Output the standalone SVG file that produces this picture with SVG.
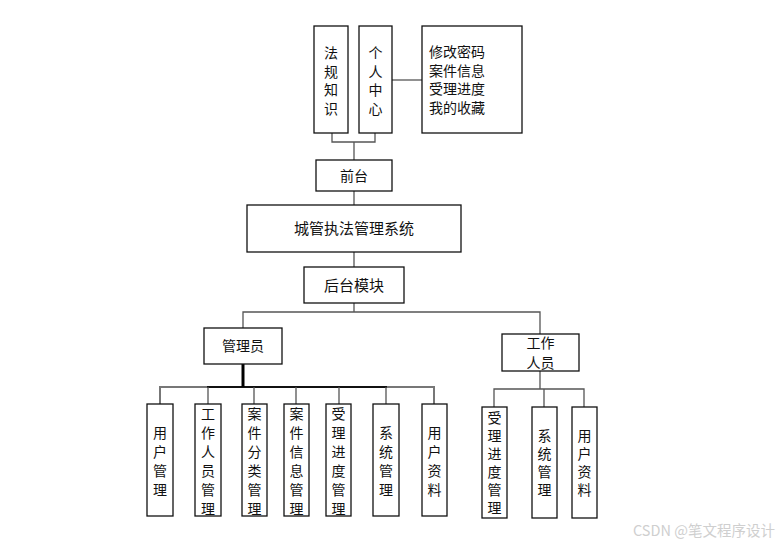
<svg xmlns="http://www.w3.org/2000/svg" width="782" height="545" viewBox="0 0 782 545">
<style>
.box{fill:#fff;stroke:#111;stroke-width:1.3}
.ln{fill:none;stroke:#555;stroke-width:1.3}
.lg{fill:none;stroke:#777;stroke-width:2}
.ld{fill:none;stroke:#111;stroke-width:2}
.t{font-family:"Noto Sans CJK SC","Liberation Sans",sans-serif;font-size:14px;fill:#111}
.big{font-size:15px}
.c{text-anchor:middle}
.wm{font-family:"Noto Sans CJK SC","Liberation Sans",sans-serif;font-size:14.5px;fill:#cfcfcf}
</style>
<rect width="782" height="545" fill="#fff"/>
<g id="connectors">
<path class="ln" d="M392,80 H422"/>
<path class="ln" d="M332,133 V142 H375 V133"/>
<path class="ln" d="M354,142 V160"/>
<path class="ln" d="M354,191 V205"/>
<path class="ln" d="M354,252 V267"/>
<path class="ln" d="M354,303 V312"/>
<path class="ln" d="M243,328 V312 H540 V334"/>
<path class="lg" d="M160,404 V387 H434 V404"/>
<path class="ld" d="M207,387 H387"/>
<path d="M243,364 V387" fill="none" stroke="#000" stroke-width="3"/>
<path class="ln" d="M208,387 V404 M254,387 V404 M296,387 V404 M339,387 V404 M386,387 V404"/>
<path class="ln" d="M540,371 V389 M494,407 V389 H584 V407 M544,389 V407"/>
</g>
<g id="n-fagui"><rect class="box" x="314" y="26" width="34" height="107"/>
<text class="t c"><tspan x="331" y="58">法</tspan><tspan x="331" y="77">规</tspan><tspan x="331" y="95">知</tspan><tspan x="331" y="114">识</tspan></text></g>
<g id="n-geren"><rect class="box" x="359" y="26" width="33" height="107"/>
<text class="t c"><tspan x="375.5" y="58">个</tspan><tspan x="375.5" y="77">人</tspan><tspan x="375.5" y="95">中</tspan><tspan x="375.5" y="114">心</tspan></text></g>
<g id="n-gerenitems"><rect class="box" x="422" y="26" width="100" height="107"/>
<text class="t"><tspan x="429" y="57">修改密码</tspan><tspan x="429" y="76">案件信息</tspan><tspan x="429" y="94">受理进度</tspan><tspan x="429" y="113">我的收藏</tspan></text></g>
<g id="n-qiantai"><rect class="box" x="316" y="160" width="76" height="31"/>
<text class="t c" x="354" y="181">前台</text></g>
<g id="n-system"><rect class="box" x="247" y="205" width="214" height="47"/>
<text class="t big c" x="354" y="234">城管执法管理系统</text></g>
<g id="n-houtai"><rect class="box" x="304" y="267" width="100" height="36"/>
<text class="t big c" x="354" y="291">后台模块</text></g>
<g id="n-admin"><rect class="box" x="204" y="328" width="78" height="36"/>
<text class="t c" x="243" y="351">管理员</text></g>
<g id="n-worker"><rect class="box" x="502" y="334" width="77" height="37"/>
<text class="t c"><tspan x="540.5" y="348">工作</tspan><tspan x="540.5" y="368">人员</tspan></text></g>
<g id="n-a1"><rect class="box" x="147" y="404" width="26" height="112"/>
<text class="t c"><tspan x="160" y="438">用</tspan><tspan x="160" y="457">户</tspan><tspan x="160" y="476">管</tspan><tspan x="160" y="495">理</tspan></text></g>
<g id="n-a2"><rect class="box" x="195" y="404" width="26" height="112"/>
<text class="t c"><tspan x="208" y="419">工</tspan><tspan x="208" y="438">作</tspan><tspan x="208" y="457">人</tspan><tspan x="208" y="476">员</tspan><tspan x="208" y="495">管</tspan><tspan x="208" y="514">理</tspan></text></g>
<g id="n-a3"><rect class="box" x="242" y="404" width="25" height="112"/>
<text class="t c"><tspan x="254.5" y="419">案</tspan><tspan x="254.5" y="438">件</tspan><tspan x="254.5" y="457">分</tspan><tspan x="254.5" y="476">类</tspan><tspan x="254.5" y="495">管</tspan><tspan x="254.5" y="514">理</tspan></text></g>
<g id="n-a4"><rect class="box" x="284" y="404" width="25" height="112"/>
<text class="t c"><tspan x="296.5" y="419">案</tspan><tspan x="296.5" y="438">件</tspan><tspan x="296.5" y="457">信</tspan><tspan x="296.5" y="476">息</tspan><tspan x="296.5" y="495">管</tspan><tspan x="296.5" y="514">理</tspan></text></g>
<g id="n-a5"><rect class="box" x="326" y="404" width="25" height="112"/>
<text class="t c"><tspan x="338.5" y="419">受</tspan><tspan x="338.5" y="438">理</tspan><tspan x="338.5" y="457">进</tspan><tspan x="338.5" y="476">度</tspan><tspan x="338.5" y="495">管</tspan><tspan x="338.5" y="514">理</tspan></text></g>
<g id="n-a6"><rect class="box" x="373" y="404" width="26" height="112"/>
<text class="t c"><tspan x="386" y="438">系</tspan><tspan x="386" y="457">统</tspan><tspan x="386" y="476">管</tspan><tspan x="386" y="495">理</tspan></text></g>
<g id="n-a7"><rect class="box" x="422" y="404" width="25" height="112"/>
<text class="t c"><tspan x="434.5" y="438">用</tspan><tspan x="434.5" y="457">户</tspan><tspan x="434.5" y="476">资</tspan><tspan x="434.5" y="495">料</tspan></text></g>
<g id="n-w1"><rect class="box" x="482" y="407" width="25" height="111"/>
<text class="t c"><tspan x="494.5" y="423">受</tspan><tspan x="494.5" y="441">理</tspan><tspan x="494.5" y="459">进</tspan><tspan x="494.5" y="477">度</tspan><tspan x="494.5" y="495">管</tspan><tspan x="494.5" y="513">理</tspan></text></g>
<g id="n-w2"><rect class="box" x="532" y="407" width="25" height="111"/>
<text class="t c"><tspan x="544.5" y="441">系</tspan><tspan x="544.5" y="459">统</tspan><tspan x="544.5" y="477">管</tspan><tspan x="544.5" y="495">理</tspan></text></g>
<g id="n-w3"><rect class="box" x="572" y="407" width="25" height="111"/>
<text class="t c"><tspan x="584.5" y="441">用</tspan><tspan x="584.5" y="459">户</tspan><tspan x="584.5" y="477">资</tspan><tspan x="584.5" y="495">料</tspan></text></g>
<text class="wm" x="633" y="536">CSDN @笔文程序设计</text>
</svg>
